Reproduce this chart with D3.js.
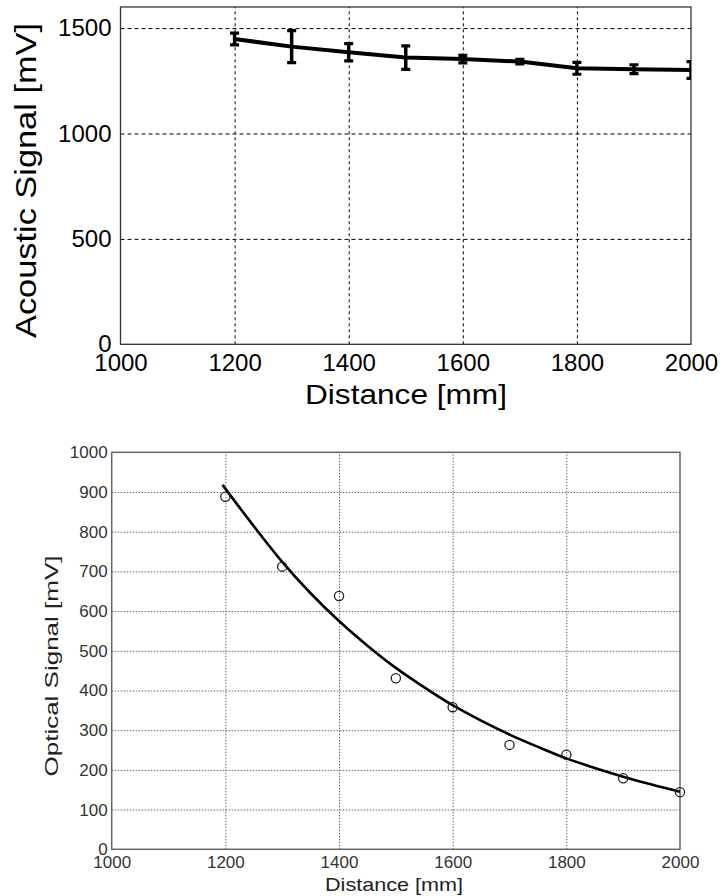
<!DOCTYPE html>
<html><head><meta charset="utf-8">
<script src="https://cdn.jsdelivr.net/npm/d3@7"></script>
<style>
body{margin:0;background:#fff}
svg{display:block}
text{font-family:"Liberation Sans",Arial,Helvetica,sans-serif}
</style>
</head><body>
<svg id="c" width="723" height="896"></svg>
<script>
// ---- data ----
const distances = [1200,1300,1400,1500,1600,1700,1800,1900,2000];
const acousticMean = [1448,1412,1385,1360,1353,1341,1309,1305,1301];
const acousticErr = [28,76,41,56,18,11,28,21,40];
const opticalMeasured = [888,712,638,431,358,263,238,179,144];
const fitDistances = [1195,1250,1300,1350,1400,1450,1500,1550,1600,1650,1700,1750,1800,1850,1900,1950,2000];
const fitValues = [918,814,724,645,575,513,457,408,363,324,289,258,229,205,183,163,145];
const xTicks = [1000,1200,1400,1600,1800,2000];
const acousticYTicks = [0,500,1000,1500];
const opticalYTicks = [0,100,200,300,400,500,600,700,800,900,1000];

const svg = d3.select("#c");

// ================= TOP: Acoustic =================
(function(){
  const L=120.5,R=691,T=7,B=344.3;
  const x=d3.scaleLinear().domain([1000,2000]).range([L,R]);
  const y=d3.scaleLinear().domain([0,1600]).range([B,T]);
  const g=svg.append("g");
  g.append("clipPath").attr("id","clipTop").append("rect")
    .attr("x",L).attr("y",T).attr("width",R-L).attr("height",B-T);

  g.append("g").attr("transform",`translate(0,${B})`)
    .call(d3.axisBottom(x).tickValues(xTicks.slice(1,-1)).tickSize(-(B-T)).tickFormat(""))
    .call(s=>s.select(".domain").remove())
    .call(s=>s.selectAll("line").attr("stroke","#000").attr("stroke-width",1).attr("stroke-dasharray","3,3"));
  g.append("g").attr("transform",`translate(${L},0)`)
    .call(d3.axisLeft(y).tickValues(acousticYTicks.slice(1)).tickSize(-(R-L)).tickFormat(""))
    .call(s=>s.select(".domain").remove())
    .call(s=>s.selectAll("line").attr("stroke","#000").attr("stroke-width",1).attr("stroke-dasharray","4,3"));

  g.append("rect").attr("x",L).attr("y",T).attr("width",R-L).attr("height",B-T)
    .attr("fill","none").attr("stroke","#333").attr("stroke-width",1.3);

  const xa=g.append("g").attr("transform",`translate(0,${B})`)
    .call(d3.axisBottom(x).tickValues(xTicks).tickSize(0).tickPadding(4).tickFormat(d3.format("d")));
  xa.select(".domain").remove();
  xa.selectAll("text").attr("font-size",24).attr("fill","#000").attr("dy","0.95em");
  const ya=g.append("g").attr("transform",`translate(${L},0)`)
    .call(d3.axisLeft(y).tickValues(acousticYTicks).tickSize(0).tickPadding(9).tickFormat(d3.format("d")));
  ya.select(".domain").remove();
  ya.selectAll("text").attr("font-size",24).attr("fill","#000");

  const dg=g.append("g").attr("clip-path","url(#clipTop)");
  const pts=distances.map((d,i)=>({d,v:acousticMean[i],e:acousticErr[i]}));
  dg.append("path").datum(pts).attr("fill","none").attr("stroke","#000").attr("stroke-width",4)
    .attr("stroke-linejoin","round")
    .attr("d",d3.line().x(p=>x(p.d)).y(p=>y(p.v)));
  const eb=dg.selectAll(".eb").data(pts).join("g");
  eb.append("line").attr("x1",p=>x(p.d)).attr("x2",p=>x(p.d))
    .attr("y1",p=>y(p.v+p.e)).attr("y2",p=>y(p.v-p.e)).attr("stroke","#000").attr("stroke-width",3.5);
  eb.append("line").attr("x1",p=>x(p.d)-4.5).attr("x2",p=>x(p.d)+4.5)
    .attr("y1",p=>y(p.v+p.e)).attr("y2",p=>y(p.v+p.e)).attr("stroke","#000").attr("stroke-width",3.2);
  eb.append("line").attr("x1",p=>x(p.d)-4.5).attr("x2",p=>x(p.d)+4.5)
    .attr("y1",p=>y(p.v-p.e)).attr("y2",p=>y(p.v-p.e)).attr("stroke","#000").attr("stroke-width",3.2);

  g.append("text").attr("x",406).attr("y",404).attr("text-anchor","middle")
    .attr("font-size",28).attr("textLength",202).attr("lengthAdjust","spacingAndGlyphs")
    .text("Distance [mm]");
  g.append("text").attr("transform","translate(36,180.5) rotate(-90)").attr("text-anchor","middle")
    .attr("font-size",29).attr("textLength",315).attr("lengthAdjust","spacingAndGlyphs")
    .text("Acoustic Signal [mV]");
})();

// ================= BOTTOM: Optical =================
(function(){
  const L=111.7,R=680,T=452.3,B=849.3;
  const x=d3.scaleLinear().domain([1000,2000]).range([L,R]);
  const y=d3.scaleLinear().domain([0,1000]).range([B,T]);
  const g=svg.append("g");

  g.append("g").attr("transform",`translate(0,${B})`)
    .call(d3.axisBottom(x).tickValues(xTicks.slice(1,-1)).tickSize(-(B-T)).tickFormat(""))
    .call(s=>s.select(".domain").remove())
    .call(s=>s.selectAll("line").attr("stroke","#666").attr("stroke-width",1).attr("stroke-dasharray","1.5,1.5"));
  g.append("g").attr("transform",`translate(${L},0)`)
    .call(d3.axisLeft(y).tickValues(opticalYTicks.slice(1,-1)).tickSize(-(R-L)).tickFormat(""))
    .call(s=>s.select(".domain").remove())
    .call(s=>s.selectAll("line").attr("stroke","#666").attr("stroke-width",1).attr("stroke-dasharray","1.5,1.5"));

  g.append("rect").attr("x",L).attr("y",T).attr("width",R-L).attr("height",B-T)
    .attr("fill","none").attr("stroke","#666").attr("stroke-width",1.5);

  const xa=g.append("g").attr("transform",`translate(0,${B})`)
    .call(d3.axisBottom(x).tickValues(xTicks).tickSize(0).tickPadding(3).tickFormat(d3.format("d")));
  xa.select(".domain").remove();
  xa.selectAll("text").attr("font-size",17).attr("fill","#333").attr("dy","0.95em");
  const ya=g.append("g").attr("transform",`translate(${L},0)`)
    .call(d3.axisLeft(y).tickValues(opticalYTicks).tickSize(0).tickPadding(4).tickFormat(d3.format("d")));
  ya.select(".domain").remove();
  ya.selectAll("text").attr("font-size",17).attr("fill","#333");

  const fit=fitDistances.map((d,i)=>({d,v:fitValues[i]}));
  g.append("path").datum(fit).attr("fill","none").attr("stroke","#000").attr("stroke-width",2.6)
    .attr("d",d3.line().curve(d3.curveMonotoneX).x(p=>x(p.d)).y(p=>y(p.v)));
  g.selectAll(".pt").data(distances.map((d,i)=>({d,v:opticalMeasured[i]}))).join("circle")
    .attr("cx",p=>x(p.d)).attr("cy",p=>y(p.v)).attr("r",4.6)
    .attr("fill","none").attr("stroke","#222").attr("stroke-width",1.3);

  g.append("text").attr("x",394).attr("y",891).attr("text-anchor","middle")
    .attr("font-size",19).attr("fill","#222").attr("textLength",138).attr("lengthAdjust","spacingAndGlyphs")
    .text("Distance [mm]");
  g.append("text").attr("transform","translate(58,666) rotate(-90)").attr("text-anchor","middle")
    .attr("font-size",18).attr("fill","#222").attr("textLength",221).attr("lengthAdjust","spacingAndGlyphs")
    .text("Optical Signal [mV]");
})();
</script>
</body></html>
